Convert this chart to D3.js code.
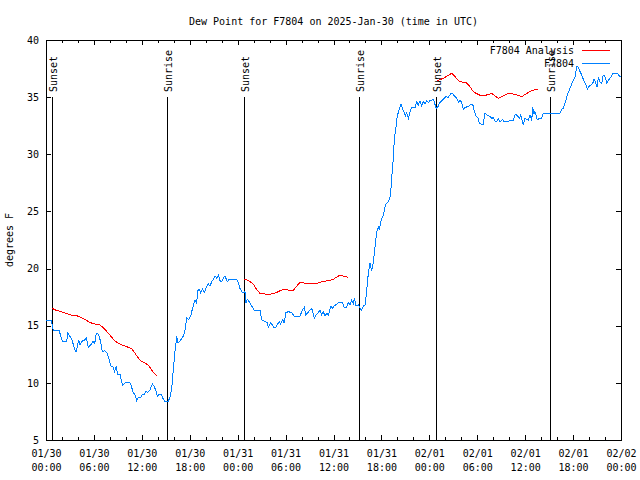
<!DOCTYPE html>
<html><head><meta charset="utf-8">
<script src="https://cdn.jsdelivr.net/npm/d3@7/dist/d3.min.js"></script>
<style>
html,body{margin:0;padding:0;background:#fff;}
svg{display:block;}
text{font-family:"DejaVu Sans Mono",monospace;font-size:10px;fill:#000;}
</style></head>
<body>
<svg id="chart" width="640" height="480"></svg>
<script>
// ---- data (hours since 2025-01-30 00:00 UTC, dew point in °F) ----
const obsHours = [0,0.50,0.66,0.91,1.25,1.63,2.04,2.59,2.75,3.01,3.26,3.59,3.76,4.09,4.26,4.55,4.85,5.05,5.30,5.60,5.89,6.10,6.30,6.55,6.85,7.05,7.39,7.68,7.93,8.10,8.39,8.60,8.77,9.02,9.27,9.43,9.60,9.98,10.52,10.68,10.93,11.11,11.36,11.56,11.86,12.06,12.27,12.48,12.77,13.02,13.31,13.52,13.74,13.94,14.15,14.44,14.69,14.90,15.28,15.53,15.74,15.94,16.15,16.37,16.53,16.87,17.19,17.37,17.62,17.87,18.12,18.32,18.53,18.66,18.85,19.03,19.20,19.37,19.62,19.82,20.12,20.32,20.54,20.75,20.95,21.16,21.38,21.58,21.79,22.00,22.20,22.41,22.70,22.92,23.88,24.08,24.29,24.51,24.71,24.92,25.04,25.21,25.46,25.76,26.05,26.38,26.80,27.01,27.43,27.71,27.84,28.14,28.34,28.55,28.80,28.96,29.21,29.39,29.64,29.80,30.05,30.34,30.77,31.05,31.81,32.14,32.34,32.52,32.77,33.06,33.27,33.47,33.60,33.81,34.10,34.31,34.52,34.72,34.94,35.15,35.35,35.56,35.69,35.90,36.06,36.40,36.69,37.15,37.35,37.57,37.85,38.07,38.28,38.48,38.61,38.82,39.11,39.32,39.53,39.73,39.98,40.16,40.36,40.57,40.78,40.99,41.20,41.41,41.61,41.74,41.91,42.24,42.54,42.86,43.08,43.20,43.36,43.49,43.61,43.83,43.99,44.20,44.45,44.67,44.83,44.99,45.17,45.37,45.58,45.79,46.21,46.42,46.62,46.83,47.04,47.25,47.46,47.67,47.87,48.08,48.30,48.50,48.62,48.84,49.05,49.25,49.55,49.84,50.09,50.38,50.68,50.93,51.13,51.43,51.68,51.84,52.05,52.25,52.47,52.88,53.09,53.43,53.59,53.84,54.06,54.26,54.47,54.76,54.97,55.18,55.60,55.81,56.01,56.22,56.44,56.64,56.85,57.19,57.35,57.89,58.19,58.52,58.73,58.94,59.27,59.44,59.77,59.98,60.39,60.61,60.82,60.94,61.11,61.23,61.52,61.77,62.07,62.27,64.36,64.58,64.78,64.99,65.28,65.53,65.70,65.95,66.24,66.45,66.66,66.87,67.08,67.28,67.62,67.78,68.03,68.24,68.46,68.62,68.83,69.03,69.16,69.37,69.58,69.78,70.00,70.21,70.41,70.75,71.00,71.54,71.79,72.00];
const obsDewF = [15.5,15.44,15.44,14.6,14.54,14.6,13.66,13.66,14.39,14.05,13.75,12.94,12.67,13.75,13.31,13.66,13.75,13.95,13.11,13.31,13.66,13.46,14.33,14.27,13.6,12.72,12.81,12.58,12.0,11.48,11.42,10.98,11.42,10.69,10.75,10.25,9.79,10.02,10.02,9.72,9.14,9.0,8.44,8.7,8.74,9.02,8.94,9.23,9.17,9.37,9.9,9.72,9.37,8.79,9.0,9.0,8.56,8.35,8.35,8.74,9.52,11.12,12.72,14.05,13.46,13.75,14.1,14.48,15.7,15.56,15.85,16.43,16.96,17.22,16.96,18.1,18.18,17.89,18.2,17.89,18.42,18.65,18.47,18.85,19.06,19.35,19.15,19.44,18.94,18.85,19.15,19.35,18.85,19.06,19.06,18.77,18.27,17.98,17.89,17.98,17.02,17.31,17.1,16.72,16.37,16.31,16.37,15.5,15.35,15.26,14.86,15.26,15.06,14.86,14.86,15.12,15.35,15.15,15.56,15.21,16.14,16.23,16.14,15.85,15.85,16.43,16.6,15.94,16.14,16.37,16.52,16.02,15.65,15.94,16.14,16.37,15.94,16.23,15.85,16.08,15.94,16.43,16.72,16.52,16.72,16.9,17.02,17.02,16.6,16.55,17.02,16.81,17.25,16.96,17.39,16.72,16.81,16.52,16.37,16.72,16.81,18.12,19.58,20.45,19.81,20.6,21.92,23.23,23.66,23.37,24.1,24.69,25.65,25.85,26.24,27.02,28.62,29.64,31.25,32.41,33.35,33.87,34.4,33.93,33.73,33.35,33.64,33.15,33.73,34.08,34.08,34.6,34.31,34.69,34.23,34.6,34.4,34.69,34.52,34.69,34.75,34.81,34.6,34.02,34.11,34.46,34.69,34.9,35.04,34.99,35.28,35.33,35.1,34.9,34.52,34.75,34.52,33.93,34.11,34.17,34.31,34.4,33.87,33.35,33.23,32.76,32.64,32.64,33.64,33.44,33.29,33.15,33.2,32.91,32.85,33.15,32.85,33.06,32.85,32.85,33.0,33.0,33.44,33.44,33.15,33.44,32.56,33.15,33.0,33.44,32.94,34.11,33.53,33.73,33.0,33.15,33.15,33.58,33.58,33.93,34.02,34.46,35.19,35.62,35.91,36.35,36.79,37.67,37.61,37.23,36.94,36.56,36.06,35.68,35.97,36.06,36.2,36.56,36.26,35.85,36.79,36.35,36.2,36.94,36.79,36.26,36.44,36.79,37.08,37.08,36.85,36.79];

// analysis series; null marks a gap between runs
const anaHours = [0.79,1.21,1.84,2.47,3.09,3.84,4.35,4.97,5.60,6.22,6.76,7.26,7.89,8.52,8.93,9.55,10.11,10.68,11.02,11.43,11.86,12.48,12.90,13.31,13.86,null,24.83,25.33,25.88,26.38,26.80,27.42,28.14,28.80,29.30,29.80,30.34,30.89,31.39,31.81,32.65,33.90,34.52,35.35,35.98,36.82,37.23,37.78,null,48.93,49.75,50.25,50.80,51.22,51.76,52.59,53.09,53.51,54.01,54.56,55.18,55.81,56.64,57.27,57.89,58.73,59.57,60.39,61.02,61.65];
const anaDewF = [16.52,16.37,16.23,16.08,15.94,15.88,15.74,15.5,15.26,15.12,15.06,14.77,14.27,13.75,13.51,13.31,13.16,13.02,12.72,12.29,11.94,11.71,11.48,11.04,10.63,null,19.09,18.94,18.71,18.18,17.83,17.77,17.77,17.89,18.06,18.18,18.12,18.04,18.47,18.77,18.71,18.71,18.85,18.94,19.06,19.44,19.35,19.24,null,36.44,36.64,36.85,37.08,36.79,36.35,36.29,35.91,35.47,35.28,35.1,35.19,35.33,34.9,35.13,35.33,35.25,35.04,35.41,35.62,35.71];

const sunHours = [0.79, 15.19, 24.83, 39.24, 48.88, 63.16];
const sunLabels = ["Sunset","Sunrise","Sunset","Sunrise","Sunset","Sunrise"];

const yTicks = [5,10,15,20,25,30,35,40];
const majorStepH = 6, minorStepH = 2, spanH = 72;
const titleText = "Dew Point for F7804 on 2025-Jan-30 (time in UTC)";
const yLabel = "degrees F";
const seriesNames = ["F7804 Analysis", "F7804"];
const seriesColors = ["#ff0000", "#0080ff"];

// ---- chart ----
const t0 = Date.UTC(2025,0,30);
const toDate = h => new Date(t0 + h*3600000);
const M = {l:46, r:621, t:40, b:440};
const svg = d3.select("#chart");
const x = d3.scaleUtc().domain([toDate(0), toDate(spanH)]).range([M.l, M.r]);
const y = d3.scaleLinear().domain([5,40]).range([M.b, M.t]);

const majors = d3.range(0, spanH+0.1, majorStepH).map(toDate);
const minors = d3.range(0, spanH+0.1, minorStepH).filter(h => h % majorStepH !== 0).map(toDate);

function cleanAxis(g){ g.select(".domain").remove(); g.selectAll("line").attr("stroke","#000").attr("shape-rendering","crispEdges"); }

// bottom
const fmt1 = d3.utcFormat("%m/%d"), fmt2 = d3.utcFormat("%H:%M");
const gb = svg.append("g").attr("transform",`translate(0,${M.b})`)
  .call(d3.axisBottom(x).tickValues(majors).tickSize(-5).tickPadding(0).tickFormat(""));
cleanAxis(gb);
gb.selectAll(".tick text").each(function(d){
  const t = d3.select(this).attr("dy",null).attr("y",null).attr("font-family",null).attr("font-size",null);
  t.append("tspan").attr("x",0).attr("y",17).text(fmt1(d));
  t.append("tspan").attr("x",0).attr("y",31).text(fmt2(d));
});
svg.append("g").attr("transform",`translate(0,${M.b})`)
  .call(d3.axisBottom(x).tickValues(minors).tickSize(-3).tickFormat("")).call(cleanAxis);
// top
svg.append("g").attr("transform",`translate(0,${M.t})`)
  .call(d3.axisTop(x).tickValues(majors).tickSize(-5).tickFormat("")).call(cleanAxis);
svg.append("g").attr("transform",`translate(0,${M.t})`)
  .call(d3.axisTop(x).tickValues(minors).tickSize(-3).tickFormat("")).call(cleanAxis);
// left
const gl = svg.append("g").attr("transform",`translate(${M.l},0)`)
  .call(d3.axisLeft(y).tickValues(yTicks).tickSize(-5).tickPadding(7).tickFormat(d3.format("d")));
cleanAxis(gl);
gl.selectAll("text").attr("font-family",null).attr("font-size",null);
// right
svg.append("g").attr("transform",`translate(${M.r},0)`)
  .call(d3.axisRight(y).tickValues(yTicks).tickSize(-5).tickFormat("")).call(cleanAxis);

// frame
svg.append("rect").attr("x",M.l+0.5).attr("y",M.t+0.5).attr("width",M.r-M.l).attr("height",M.b-M.t)
  .attr("fill","none").attr("stroke","#000").attr("shape-rendering","crispEdges");

// sun lines
sunHours.forEach((h,i)=>{
  const px = Math.round(x(toDate(h)))+0.5;
  svg.append("line").attr("x1",px).attr("x2",px).attr("y1",y(35)).attr("y2",M.b)
    .attr("stroke","#000").attr("stroke-width",1).attr("shape-rendering","crispEdges");
  svg.append("text").attr("transform",`translate(${px+4.5},92) rotate(-90)`).text(sunLabels[i]);
});

// series
const lineA = d3.line().defined(i => anaHours[i]!==null).x(i => x(toDate(anaHours[i]))).y(i => y(anaDewF[i]));
svg.append("path").attr("d", lineA(d3.range(anaHours.length))).attr("fill","none")
  .attr("stroke",seriesColors[0]).attr("stroke-width",1).attr("shape-rendering","crispEdges");
const lineO = d3.line().x(i => x(toDate(obsHours[i]))).y(i => y(obsDewF[i]));
svg.append("path").attr("d", lineO(d3.range(obsHours.length))).attr("fill","none")
  .attr("stroke",seriesColors[1]).attr("stroke-width",1).attr("shape-rendering","crispEdges");

// legend
seriesNames.forEach((n,i)=>{
  const ly = 50 + i*13;
  svg.append("text").attr("x",574).attr("y",ly+4).attr("text-anchor","end").text(n);
  svg.append("line").attr("x1",582).attr("x2",610).attr("y1",ly+0.5).attr("y2",ly+0.5)
    .attr("stroke",seriesColors[i]).attr("stroke-width",1).attr("shape-rendering","crispEdges");
});

// title & y label
svg.append("text").attr("x",(M.l+M.r)/2).attr("y",25).attr("text-anchor","middle").text(titleText);
svg.append("text").attr("transform","translate(13,240) rotate(-90)").attr("text-anchor","middle").text(yLabel);
</script>
</body></html>
